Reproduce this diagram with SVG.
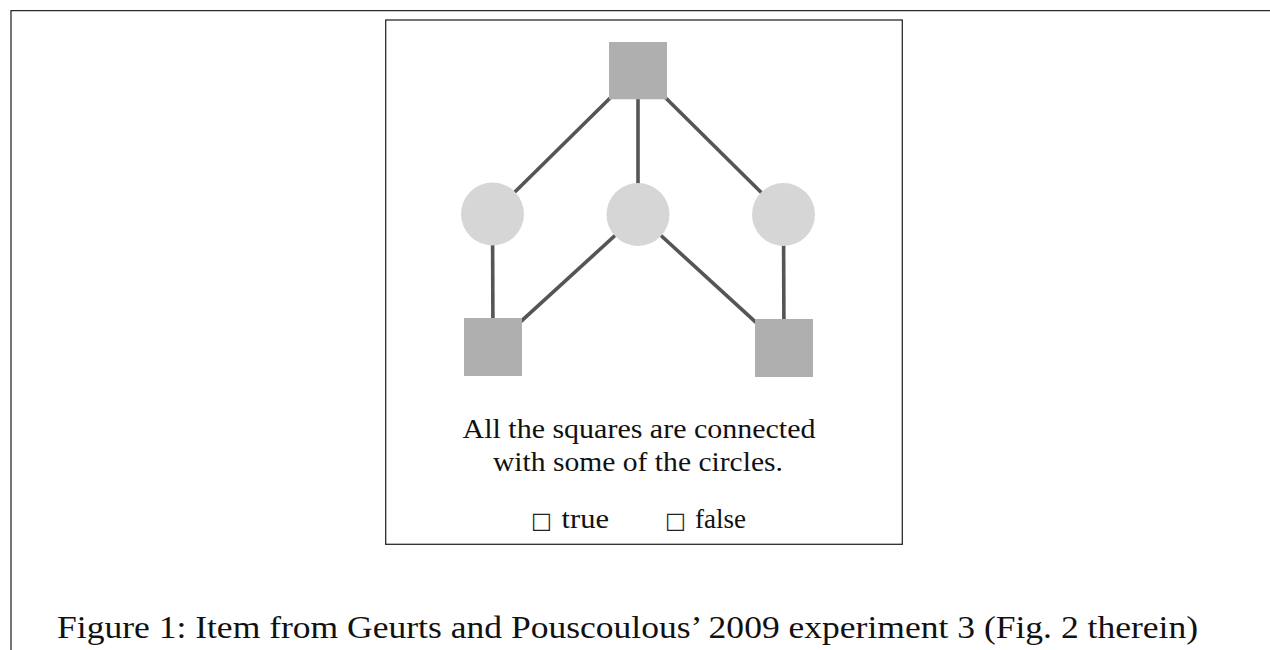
<svg xmlns="http://www.w3.org/2000/svg" width="1270" height="650" viewBox="0 0 1270 650">
  <style>
    .frame { fill: none; stroke: #2b2b2b; stroke-width: 1.3; }
    .edge { stroke: #555555; stroke-width: 3.6; stroke-linecap: butt; }
    .square { fill: #afafaf; }
    .circle { fill: #d6d6d6; }
    .stmt { font-family: "Liberation Serif", "DejaVu Serif", serif; font-size: 28px; fill: #111; text-anchor: middle; }
    .opt { font-family: "Liberation Serif", "DejaVu Serif", serif; font-size: 28px; fill: #111; }
    .box { font-family: "DejaVu Sans", sans-serif; font-size: 22px; fill: #222; }
    .caption { font-family: "Liberation Serif", "DejaVu Serif", serif; font-size: 32px; fill: #111; }
  </style>

  <!-- page frame (top and left rules) -->
  <path class="frame" d="M11,650 V10.7 H1270"/>

  <!-- item panel -->
  <rect class="frame" x="385.7" y="20" width="516.6" height="524.3"/>

  <!-- connectors, drawn centre to centre beneath the nodes -->
  <g id="edges">
    <line class="edge" x1="638" y1="70.5" x2="492.5" y2="214"/>
    <line class="edge" x1="638" y1="70.5" x2="638" y2="214.5"/>
    <line class="edge" x1="638" y1="70.5" x2="783.5" y2="214.5"/>
    <line class="edge" x1="492.5" y1="214" x2="493" y2="347"/>
    <line class="edge" x1="638" y1="214.5" x2="493" y2="347"/>
    <line class="edge" x1="638" y1="214.5" x2="784" y2="348"/>
    <line class="edge" x1="783.5" y1="214.5" x2="784" y2="348"/>
  </g>

  <g id="sq-top"><rect class="square" x="609" y="42" width="58" height="57.3"/></g>
  <g id="c-left"><circle class="circle" cx="492.5" cy="214" r="31.5"/></g>
  <g id="c-mid"><circle class="circle" cx="638" cy="214.5" r="31.5"/></g>
  <g id="c-right"><circle class="circle" cx="783.5" cy="214.5" r="31.5"/></g>
  <g id="sq-bl"><rect class="square" x="464" y="318" width="58" height="58"/></g>
  <g id="sq-br"><rect class="square" x="755" y="319" width="58" height="58"/></g>

  <!-- statement -->
  <text class="stmt" x="639" y="438" textLength="353" lengthAdjust="spacingAndGlyphs">All the squares are connected</text>
  <text class="stmt" x="638" y="471" textLength="290" lengthAdjust="spacingAndGlyphs">with some of the circles.</text>

  <!-- answer options -->
  <text class="box" x="531" y="528">□</text>
  <text class="opt" x="561.5" y="528" textLength="47.5" lengthAdjust="spacingAndGlyphs">true</text>
  <text class="box" x="665" y="528">□</text>
  <text class="opt" x="695" y="528" textLength="51" lengthAdjust="spacingAndGlyphs">false</text>

  <!-- caption -->
  <text class="caption" x="57" y="638" textLength="1141" lengthAdjust="spacingAndGlyphs">Figure 1: Item from Geurts and Pouscoulous’ 2009 experiment 3 (Fig. 2 therein)</text>
</svg>
